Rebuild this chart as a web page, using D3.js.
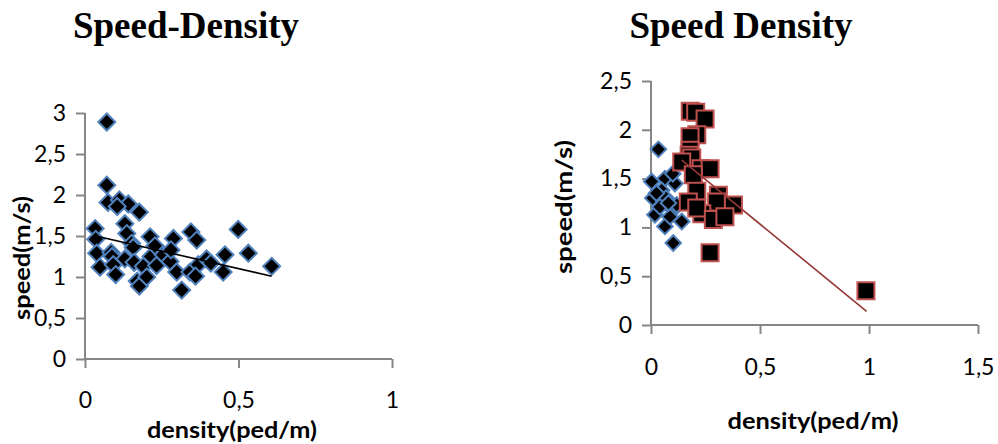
<!DOCTYPE html>
<html><head><meta charset="utf-8">
<script src="https://cdn.jsdelivr.net/npm/d3@7"></script>
<style>
html,body{margin:0;padding:0;background:#fff;}
svg{display:block;}
.tick text{font-family:Lato,"Open Sans",sans-serif;}
</style></head>
<body>
<svg id="chart" width="998" height="444"></svg>
<script>
// ---------- data ----------
const leftTitle = "Speed-Density";
const rightTitle = "Speed Density";
const xAxisTitle = "density(ped/m)";
const yAxisTitle = "speed(m/s)";

const leftXTicks = [0, 0.5, 1];
const leftYTicks = [0, 0.5, 1, 1.5, 2, 2.5, 3];
const rightXTicks = [0, 0.5, 1, 1.5];
const rightYTicks = [0, 0.5, 1, 1.5, 2, 2.5];

const leftDensity = [0.071,0.071,0.075,0.112,0.141,0.105,0.177,0.130,0.136,0.033,0.035,0.038,0.049,0.085,0.088,0.092,0.100,0.130,0.152,0.157,0.160,0.170,0.177,0.190,0.201,0.212,0.215,0.228,0.233,0.255,0.277,0.288,0.280,0.299,0.315,0.345,0.364,0.342,0.369,0.360,0.396,0.410,0.450,0.456,0.499,0.532,0.608];
const leftSpeed   = [2.89,2.12,1.91,1.94,1.89,1.86,1.79,1.65,1.53,1.59,1.46,1.29,1.12,1.30,1.25,1.15,1.03,1.22,1.41,1.36,1.18,0.95,0.89,1.13,1.00,1.49,1.25,1.38,1.14,1.27,1.19,1.47,1.33,1.06,0.84,1.55,1.45,1.06,1.15,1.01,1.22,1.17,1.06,1.27,1.58,1.29,1.13];
const leftTrendX = [0.035, 0.608];
const leftTrendY = [1.50, 1.01];

const rightBlueDensity = [0.034,0.003,0.008,0.018,0.064,0.049,0.069,0.064,0.110,0.100,0.102,0.102,0.141,0.087,0.041,0.118,0.080,0.025];
const rightBlueSpeed   = [1.80,1.47,1.30,1.13,1.50,1.38,1.30,1.01,1.45,1.55,1.18,0.84,1.06,1.11,1.21,1.23,1.25,1.35];
const rightRedDensity = [0.180,0.205,0.248,0.210,0.179,0.179,0.175,0.187,0.141,0.230,0.271,0.194,0.210,0.171,0.309,0.301,0.378,0.233,0.210,0.286,0.339,0.271,0.986];
const rightRedSpeed   = [2.19,2.18,2.11,1.95,1.93,1.79,1.74,1.71,1.67,1.60,1.60,1.54,1.37,1.26,1.33,1.26,1.23,1.14,1.20,1.08,1.11,0.74,0.35];
const rightTrendX = [0.141, 0.989];
const rightTrendY = [1.69, 0.14];

// ---------- drawing ----------
const svg = d3.select("#chart");
const fmt = d => String(d).replace(".", ",");
const axisColor = "#868686";
const blue = "#4f81bd", red = "#c0504d";

function styleAxis(g){
  g.select(".domain").attr("stroke", axisColor).attr("stroke-width", 2);
  g.selectAll(".tick line").attr("stroke", axisColor).attr("stroke-width", 2);
  g.selectAll(".tick text").attr("fill", "#000").attr("font-size", 23);
}

function panel(cfg){
  const x = d3.scaleLinear().domain(cfg.xDomain).range(cfg.xRange);
  const y = d3.scaleLinear().domain(cfg.yDomain).range(cfg.yRange);
  const gx = svg.append("g").attr("transform", `translate(0,${cfg.yRange[0]})`)
    .call(d3.axisBottom(x).tickValues(cfg.xTicks).tickFormat(fmt).tickSize(9).tickPadding(cfg.xPad));
  styleAxis(gx);
  gx.selectAll(".tick text").attr("dy", "0.71em");
  const gy = svg.append("g").attr("transform", `translate(${cfg.xRange[0]},0)`)
    .call(d3.axisLeft(y).tickValues(cfg.yTicks).tickFormat(fmt).tickSize(9).tickPadding(cfg.yPad));
  styleAxis(gy);
  gy.select(".domain").attr("d", `M0,${cfg.yRange[0]}V${cfg.yRange[1]}`);
  gx.select(".domain").attr("d", `M${cfg.xRange[0]},0H${cfg.xRange[1]}`);
  return {x, y};
}

function points(sc, xs, ys, side, fill, stroke, rot){
  const sym = d3.symbol().type(d3.symbolSquare).size(side*side);
  svg.append("g").selectAll("path").data(xs.map((d,i)=>[d, ys[i]])).join("path")
    .attr("d", sym)
    .attr("transform", d => `translate(${sc.x(d[0])},${sc.y(d[1])}) rotate(${rot})`)
    .attr("fill", fill).attr("stroke", stroke).attr("stroke-width", 2);
}

function trend(sc, xs, ys, color){
  svg.append("path").datum(xs.map((d,i)=>[d, ys[i]]))
    .attr("d", d3.line().x(d=>sc.x(d[0])).y(d=>sc.y(d[1])))
    .attr("fill","none").attr("stroke", color).attr("stroke-width", 1.6);
}

function title(text, cx){
  svg.append("text").attr("x", cx).attr("y", 38).attr("text-anchor","middle")
    .attr("font-family", "'Liberation Serif','Times New Roman',serif")
    .attr("font-weight","bold").attr("font-size", 37).text(text);
}
function axisTitle(text, x, y, rotate, len){
  const t = svg.append("text").attr("text-anchor","middle")
    .attr("font-family", "Lato,'Open Sans',sans-serif")
    .attr("font-weight","bold").attr("font-size", 23)
    .attr("textLength", len).attr("lengthAdjust", "spacingAndGlyphs").text(text);
  if (rotate) t.attr("transform", `translate(${x},${y}) rotate(-90)`);
  else t.attr("x", x).attr("y", y);
}

// Left panel
const L = panel({xDomain:[0,1], xRange:[85,392], yDomain:[0,3], yRange:[359,113],
  xTicks:leftXTicks, yTicks:leftYTicks, xPad:24, yPad:10});
points(L, leftDensity, leftSpeed, 12, "#000", blue, 45);
trend(L, leftTrendX, leftTrendY, "#000");
title(leftTitle, 186);
axisTitle(xAxisTitle, 232, 438, false, 170);
axisTitle(yAxisTitle, 30, 258, true, 124);

// Right panel
const R = panel({xDomain:[0,1.5], xRange:[651,978], yDomain:[0,2.5], yRange:[325,81],
  xTicks:rightXTicks, yTicks:rightYTicks, xPad:25, yPad:10});
points(R, rightBlueDensity, rightBlueSpeed, 11, "#000", blue, 45);
points(R, rightRedDensity, rightRedSpeed, 17, "#000", red, 0);
trend(R, rightTrendX, rightTrendY, "#953735");
title(rightTitle, 741);
axisTitle(xAxisTitle, 813, 429, false, 171);
axisTitle(yAxisTitle, 572, 207, true, 134);
</script>
</body></html>
